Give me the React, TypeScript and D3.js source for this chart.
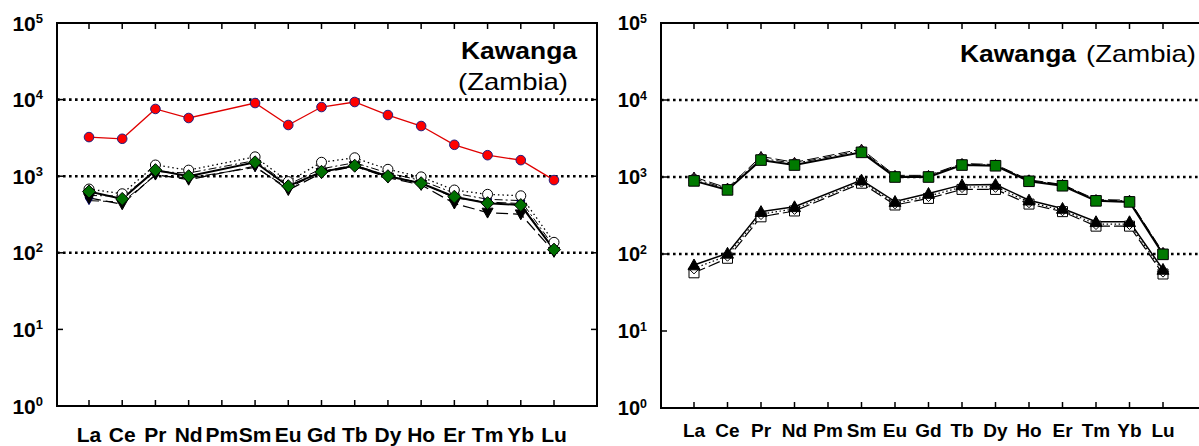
import React from "react";
import * as d3 from "d3";

const elements = ["La", "Ce", "Pr", "Nd", "Pm", "Sm", "Eu", "Gd", "Tb", "Dy", "Ho", "Er", "Tm", "Yb", "Lu"];
const yTickExps = [0, 1, 2, 3, 4, 5];
const gridExps = [2, 3, 4];

type V = number | null;
// Left panel (Kawanga, Zambia)
const leftRed: V[] = [3240, 3080, 7550, 5750, null, 9020, 4660, 8000, 9300, 6290, 4520, 2570, 1880, 1620, 890];
const leftCircle: V[] = [680, 590, 1400, 1200, null, 1790, 850, 1520, 1740, 1230, 980, 660, 580, 555, 137];
const leftSquare: V[] = [560, 550, 1150, 1100, null, 1600, 780, 1250, 1500, 1100, 880, 600, 500, 480, 120];
const leftBlueTri: V[] = [480, 460, 1020, 950, null, 1300, 700, 1150, 1400, 1000, 820, 520, 460, 440, 108];
const leftDownTri: V[] = [520, 430, 1050, 900, null, 1350, 660, 1100, 1350, 960, 770, 440, 335, 318, 103];
const leftDiamond: V[] = [630, 505, 1200, 1000, null, 1520, 740, 1140, 1370, 1000, 810, 540, 445, 420, 110];
// Right panel
const rightUpperB: V[] = [1000, 720, 1850, 1550, null, 2300, 1050, 1050, 1500, 1450, 920, 800, 510, 500, 105];
const rightUpperC: V[] = [950, 700, 1750, 1500, null, 2200, 1020, 1030, 1470, 1420, 900, 790, 500, 490, 102];
const rightUpperA: V[] = [890, 680, 1660, 1430, null, 2090, 1000, 1000, 1430, 1400, 880, 770, 490, 475, 99];
const rightLowerB: V[] = [57, 88, 304, 362, null, 830, 433, 527, 690, 690, 445, 355, 230, 230, 55];
const rightLowerC: V[] = [65, 95, 330, 385, null, 870, 455, 565, 740, 745, 470, 370, 245, 245, 59];
const rightLowerA: V[] = [72, 102, 355, 410, null, 910, 480, 610, 790, 800, 500, 390, 262, 262, 63];

type Shape = "circle" | "diamond" | "square" | "triUp" | "triDown";
function shapePath(s: Shape, r: number): string {
  switch (s) {
    case "circle":
      return d3.symbol(d3.symbolCircle, Math.PI * r * r)() as string;
    case "diamond":
      return `M0,${-r}L${r},0L0,${r}L${-r},0Z`;
    case "square":
      return `M${-r},${-r}H${r}V${r}H${-r}Z`;
    case "triUp":
      return `M0,${-r}L${r},${r * 0.8}L${-r},${r * 0.8}Z`;
    case "triDown":
      return `M0,${r}L${r},${-r * 0.8}L${-r},${-r * 0.8}Z`;
  }
}

interface Series {
  values: V[];
  shape: Shape;
  r: number;
  fill: string;
  stroke: string;
  lineColor: string;
  lineWidth: number;
  dash?: string;
}

const FONT = "'Liberation Sans', Arial, Helvetica, sans-serif";

interface PanelProps {
  left: number;
  right: number;
  top: number;
  bottom: number;
  x0: number;
  x14: number;
  series: Series[];
  labelSize: number;
  labelY: number;
  yLabelX: number;
  yLabelSize: number;
  title: React.ReactNode;
}

function Panel(p: PanelProps) {
  const x = d3.scaleLinear().domain([0, elements.length - 1]).range([p.x0, p.x14]);
  const y = d3.scaleLog().domain([1, 1e5]).range([p.bottom, p.top]);
  const line = d3
    .line<{ i: number; v: number }>()
    .x((d) => x(d.i))
    .y((d) => y(d.v));
  return (
    <g>
      {gridExps.map((e) => (
        <line
          key={"g" + e}
          x1={p.left}
          x2={p.right}
          y1={y(Math.pow(10, e))}
          y2={y(Math.pow(10, e))}
          stroke="#000"
          strokeWidth={2.6}
          strokeDasharray="2.6,3.4"
        />
      ))}
      {p.series.map((s, k) => {
        const pts = s.values
          .map((v, i) => ({ i, v }))
          .filter((d) => d.v !== null) as { i: number; v: number }[];
        return (
          <path
            key={"l" + k}
            d={line(pts) as string}
            fill="none"
            stroke={s.lineColor}
            strokeWidth={s.lineWidth}
            strokeDasharray={s.dash}
          />
        );
      })}
      {p.series.map((s, k) =>
        s.values.map((v, i) =>
          v === null ? null : (
            <path
              key={"m" + k + "-" + i}
              d={shapePath(s.shape, s.r)}
              transform={`translate(${x(i)},${y(v)})`}
              fill={s.fill}
              stroke={s.stroke}
              strokeWidth={1}
            />
          )
        )
      )}
      <rect
        x={p.left}
        y={p.top}
        width={p.right - p.left}
        height={p.bottom - p.top}
        fill="none"
        stroke="#000"
        strokeWidth={2}
      />
      {elements.map((el, i) => (
        <g key={"t" + el}>
          <line x1={x(i)} x2={x(i)} y1={p.bottom} y2={p.bottom - 6} stroke="#000" strokeWidth={1.5} />
          <line x1={x(i)} x2={x(i)} y1={p.top} y2={p.top + 6} stroke="#000" strokeWidth={1.5} />
          <text
            x={x(i)}
            y={p.labelY}
            textAnchor="middle"
            fontFamily={FONT}
            fontWeight="bold"
            fontSize={p.labelSize}
          >
            {el}
          </text>
        </g>
      ))}
      {yTickExps.map((e) => (
        <g key={"y" + e}>
          <line x1={p.left} x2={p.left + 6} y1={y(Math.pow(10, e))} y2={y(Math.pow(10, e))} stroke="#000" strokeWidth={1.5} />
          <line x1={p.right} x2={p.right - 6} y1={y(Math.pow(10, e))} y2={y(Math.pow(10, e))} stroke="#000" strokeWidth={1.5} />
          <text
            x={p.yLabelX}
            y={y(Math.pow(10, e)) + p.yLabelSize * 0.36}
            textAnchor="end"
            fontFamily={FONT}
            fontWeight="bold"
            fontSize={p.yLabelSize}
          >
            10
            <tspan fontSize={p.yLabelSize * 0.62} dy={-p.yLabelSize * 0.38}>
              {e}
            </tspan>
          </text>
        </g>
      ))}
      {p.title}
    </g>
  );
}

const leftSeries: Series[] = [
  { values: leftRed, shape: "circle", r: 4.8, fill: "#ff0000", stroke: "#202080", lineColor: "#e00000", lineWidth: 1.3 },
  { values: leftSquare, shape: "square", r: 3.5, fill: "#ffffff", stroke: "#000", lineColor: "#000", lineWidth: 1, dash: "8,3,2,3" },
  { values: leftBlueTri, shape: "triDown", r: 4, fill: "#1010c0", stroke: "#000060", lineColor: "#000", lineWidth: 1, dash: "10,4" },
  { values: leftDownTri, shape: "triDown", r: 5.5, fill: "#000", stroke: "#000", lineColor: "#000", lineWidth: 1.2, dash: "12,5" },
  { values: leftCircle, shape: "circle", r: 5, fill: "#ffffff", stroke: "#000", lineColor: "#000", lineWidth: 1.3, dash: "1.5,3" },
  { values: leftDiamond, shape: "diamond", r: 6.5, fill: "#006f00", stroke: "#000", lineColor: "#000", lineWidth: 2 },
];

const rightSeries: Series[] = [
  { values: rightUpperB, shape: "triUp", r: 5, fill: "#c02080", stroke: "#000", lineColor: "#000", lineWidth: 1, dash: "12,4" },
  { values: rightUpperC, shape: "circle", r: 4.5, fill: "#ffffff", stroke: "#000", lineColor: "#000", lineWidth: 1, dash: "8,3,2,3" },
  { values: rightUpperA, shape: "square", r: 5.3, fill: "#007a00", stroke: "#000", lineColor: "#000", lineWidth: 2 },
  { values: rightLowerB, shape: "square", r: 5, fill: "#ffffff", stroke: "#000", lineColor: "#000", lineWidth: 1.2, dash: "12,4" },
  { values: rightLowerC, shape: "diamond", r: 5.5, fill: "#ffffff", stroke: "#000", lineColor: "#000", lineWidth: 1.2, dash: "1.5,2.5" },
  { values: rightLowerA, shape: "triUp", r: 6, fill: "#000", stroke: "#000", lineColor: "#000", lineWidth: 1.5 },
];

export default function App() {
  return (
    <svg
      width={1199}
      height={446}
      style={{ position: "absolute", left: 0, top: 0, background: "#fff" }}
    >
      <rect width={1199} height={446} fill="#fff" />
      <Panel
        left={57}
        right={597}
        top={23}
        bottom={406}
        x0={89}
        x14={554}
        series={leftSeries}
        labelSize={21}
        labelY={442}
        yLabelX={43}
        yLabelSize={21}
        title={
          <g fontFamily={FONT} fontSize={24}>
            <text x={461} y={59} fontWeight="bold" textLength={116} lengthAdjust="spacingAndGlyphs">
              Kawanga
            </text>
            <text x={458} y={90} textLength={110} lengthAdjust="spacingAndGlyphs">
              (Zambia)
            </text>
          </g>
        }
      />
      <Panel
        left={661}
        right={1212}
        top={23}
        bottom={408}
        x0={694}
        x14={1163}
        series={rightSeries}
        labelSize={19}
        labelY={437}
        yLabelX={647}
        yLabelSize={20}
        title={
          <g fontFamily={FONT} fontSize={24}>
            <text x={960} y={62} fontWeight="bold" textLength={116} lengthAdjust="spacingAndGlyphs">
              Kawanga
            </text>
            <text x={1086} y={62} textLength={110} lengthAdjust="spacingAndGlyphs">
              (Zambia)
            </text>
          </g>
        }
      />
    </svg>
  );
}
